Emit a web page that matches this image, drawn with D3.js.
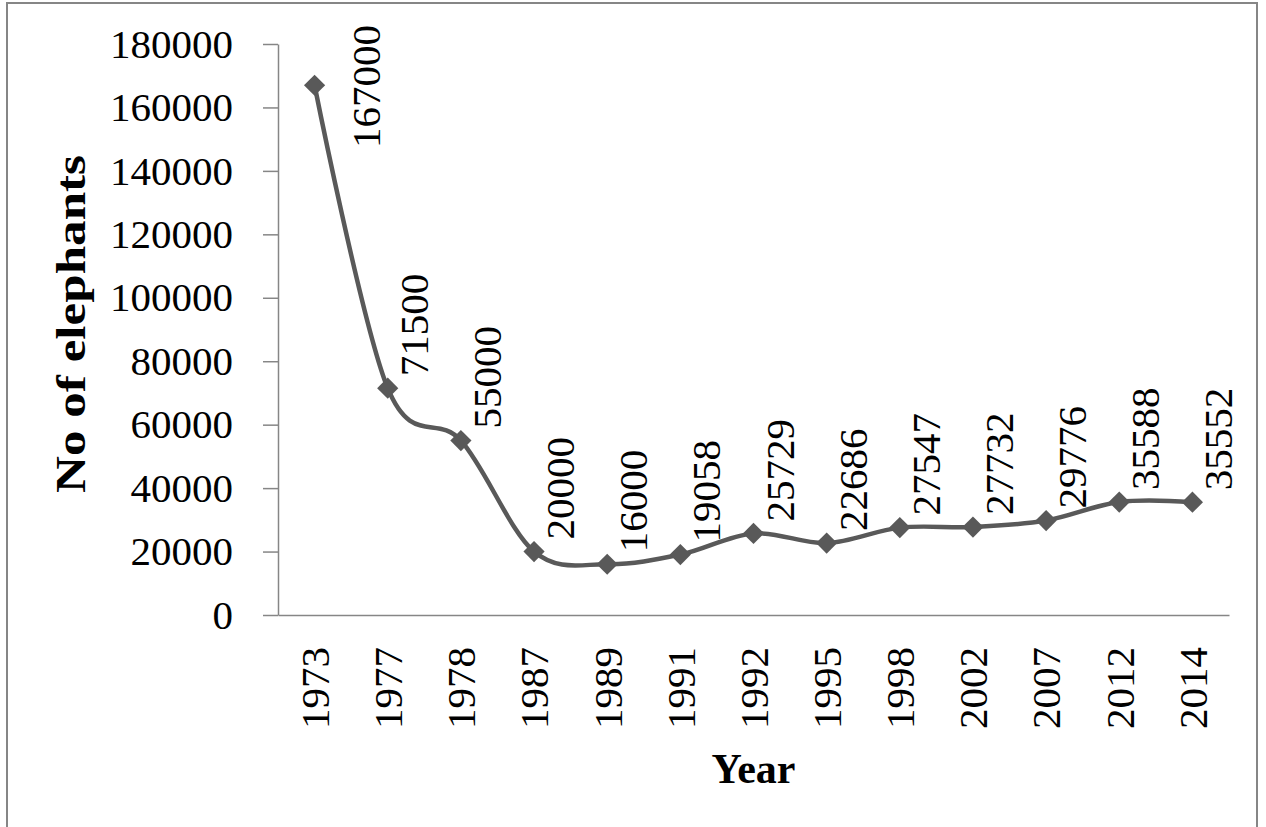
<!DOCTYPE html>
<html>
<head>
<meta charset="utf-8">
<title>No of elephants</title>
<script src="https://cdn.jsdelivr.net/npm/d3@7/dist/d3.min.js"></script>
<style>
body{
	margin: 0;
	background: #fff;
}
.chart text{
	font-family: "Liberation Serif", "Times New Roman", serif;
	fill: #000;
}
.axis path, .axis line{
	stroke: #868686;
	stroke-width: 1.5px;
}
</style>
</head>
<body>
<svg class="chart"></svg>

<script>

//data
var years = ["1973", "1977", "1978", "1987", "1989", "1991", "1992", "1995", "1998", "2002", "2007", "2012", "2014"];
var elephants = [167000, 71500, 55000, 20000, 16000, 19058, 25729, 22686, 27547, 27732, 29776, 35588, 35552];
var yTicks = [0, 20000, 40000, 60000, 80000, 100000, 120000, 140000, 160000, 180000];

var W = 1266, H = 827;
var plot = {left: 278, right: 1229, top: 44, bottom: 615};
var fontSize = 41;

var svg = d3.select(".chart")
	.attr("width", W)
	.attr("height", H);

// outer frame
svg.append("rect")
	.attr("x", 7)
	.attr("y", 3)
	.attr("width", 1250)
	.attr("height", 860)
	.attr("fill", "none")
	.attr("stroke", "#868686")
	.attr("stroke-width", 2);

var x = d3.scaleBand()
	.domain(years)
	.range([plot.left, plot.right]);

var y = d3.scaleLinear()
	.domain([0, 180000])
	.range([plot.bottom, plot.top]);

var cx = function(i){ return x(years[i]) + x.bandwidth() / 2; };

// y axis
var yAxis = d3.axisLeft(y)
	.tickValues(yTicks)
	.tickSize(15)
	.tickSizeOuter(0)
	.tickPadding(30)
	.tickFormat(d3.format("d"));

svg.append("g")
	.attr("class", "axis y")
	.attr("transform", "translate(" + plot.left + ",0)")
	.call(yAxis)
	.selectAll("text")
		.style("font-size", fontSize + "px");

// x axis
var xAxis = d3.axisBottom(x)
	.tickSize(0)
	.tickSizeOuter(0);

svg.append("g")
	.attr("class", "axis x")
	.attr("transform", "translate(0," + plot.bottom + ")")
	.call(xAxis)
	.selectAll("text")
		.style("font-size", fontSize + "px")
		.style("text-anchor", "end")
		.attr("transform", "rotate(-90)")
		.attr("x", -32)
		.attr("y", 0)
		.attr("dy", "0.35em");

// line
var line = d3.line()
	.x(function(d, i){ return cx(i); })
	.y(function(d){ return y(d); })
	.curve(d3.curveCardinal.tension(0));

svg.append("path")
	.datum(elephants)
	.attr("d", line)
	.attr("fill", "none")
	.attr("stroke", "#595959")
	.attr("stroke-width", 4.5);

// markers
svg.selectAll(".marker")
	.data(elephants)
	.enter()
	.append("path")
	.attr("class", "marker")
	.attr("d", d3.symbol().type(d3.symbolSquare).size(225))
	.attr("fill", "#595959")
	.attr("transform", function(d, i){
		return "translate(" + cx(i) + "," + y(d) + ") rotate(45)";
	});

// data labels
svg.selectAll(".label")
	.data(elephants)
	.enter()
	.append("text")
	.attr("class", "label")
	.style("font-size", fontSize + "px")
	.style("text-anchor", "start")
	.text(function(d){ return d; })
	.attr("transform", function(d, i){
		var len = String(d).length * fontSize * 0.5;
		var sy = y(d) - 12;
		var sx = cx(i) + 40;
		if(sy - len < 25){
			sy = 25 + len;
			sx += 25;
		}
		return "translate(" + sx + "," + sy + ") rotate(-90)";
	});

// axis titles
svg.append("text")
	.attr("transform", "translate(85,324) rotate(-90)")
	.style("text-anchor", "middle")
	.style("font-size", "42px")
	.style("font-weight", "bold")
	.attr("textLength", 338)
	.attr("lengthAdjust", "spacingAndGlyphs")
	.text("No of elephants");

svg.append("text")
	.attr("x", (plot.left + plot.right) / 2)
	.attr("y", 783)
	.style("text-anchor", "middle")
	.style("font-size", "42px")
	.style("font-weight", "bold")
	.text("Year");

</script>
</body>
</html>
